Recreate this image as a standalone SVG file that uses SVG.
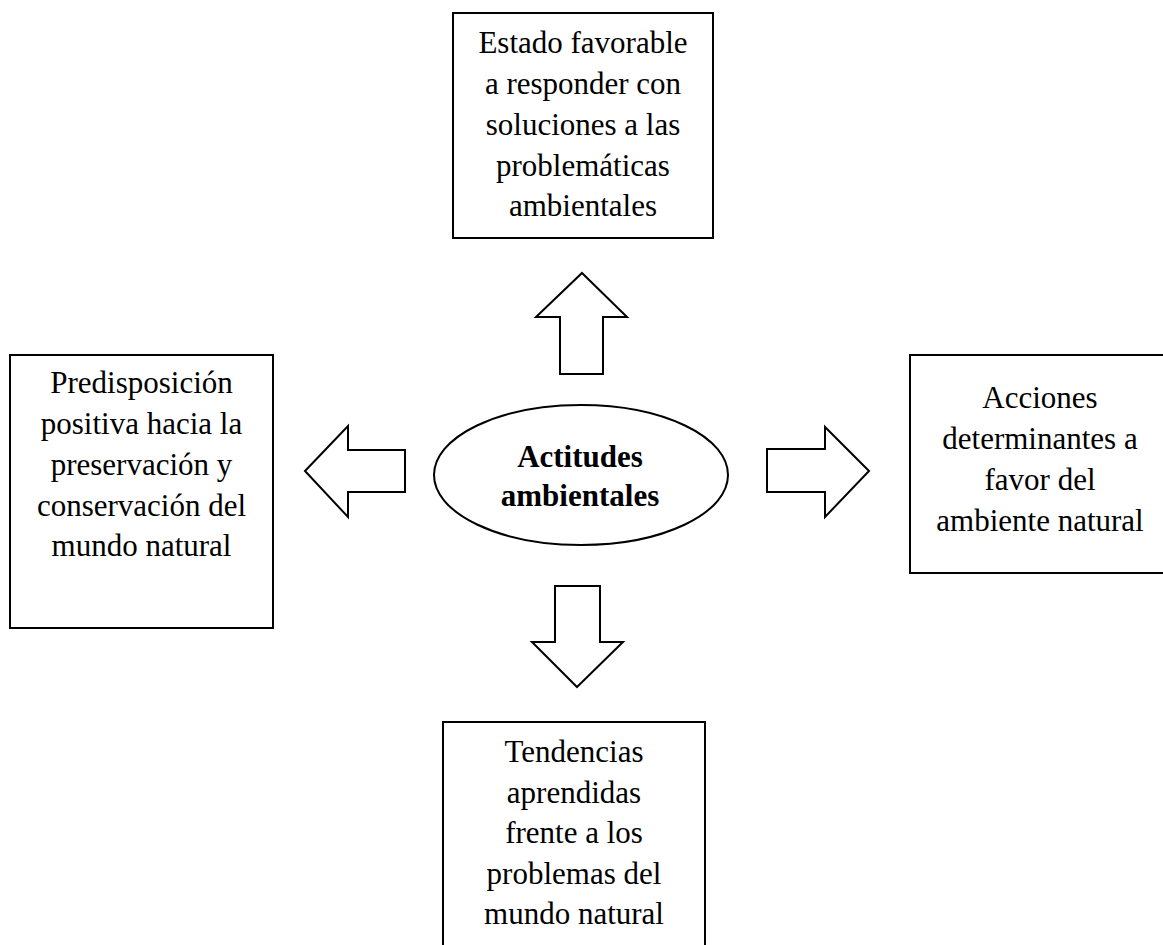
<svg xmlns="http://www.w3.org/2000/svg" width="1163" height="945" viewBox="0 0 1163 945">
  <style>
    .box { fill: #ffffff; stroke: #000000; stroke-width: 2; }
    .arrow { fill: #ffffff; stroke: #000000; stroke-width: 2; stroke-linejoin: miter; }
    .label { font-family: "Liberation Serif", "Times New Roman", serif; font-size: 31px; fill: #000000; text-anchor: middle; }
    .title { font-weight: bold; }
  </style>
  <rect x="0" y="0" width="1163" height="945" fill="#ffffff"/>

  <!-- centre concept -->
  <g id="node-center">
    <ellipse class="box" cx="581" cy="475" rx="147" ry="70"/>
    <text class="label title" x="580" y="467">Actitudes</text>
    <text class="label title" x="580" y="506">ambientales</text>
  </g>

  <!-- top box -->
  <g id="node-top">
    <rect class="box" x="453" y="13" width="260" height="225"/>
    <text class="label" x="583" y="53">Estado favorable</text>
    <text class="label" x="583" y="94">a responder con</text>
    <text class="label" x="583" y="135">soluciones a las</text>
    <text class="label" x="583" y="176">problemáticas</text>
    <text class="label" x="583" y="216">ambientales</text>
  </g>

  <!-- left box -->
  <g id="node-left">
    <rect class="box" x="10" y="355" width="263" height="273"/>
    <text class="label" x="141.5" y="393">Predisposición</text>
    <text class="label" x="141.5" y="434">positiva hacia la</text>
    <text class="label" x="141.5" y="475">preservación y</text>
    <text class="label" x="141.5" y="516">conservación del</text>
    <text class="label" x="141.5" y="556">mundo natural</text>
  </g>

  <!-- right box (runs past the right edge) -->
  <g id="node-right">
    <rect class="box" x="910" y="355" width="260" height="218"/>
    <text class="label" x="1040" y="408">Acciones</text>
    <text class="label" x="1040" y="449">determinantes a</text>
    <text class="label" x="1040" y="490">favor del</text>
    <text class="label" x="1040" y="531">ambiente natural</text>
  </g>

  <!-- bottom box (runs past the bottom edge) -->
  <g id="node-bottom">
    <rect class="box" x="443" y="722" width="262" height="240"/>
    <text class="label" x="574" y="762">Tendencias</text>
    <text class="label" x="574" y="803">aprendidas</text>
    <text class="label" x="574" y="843">frente a los</text>
    <text class="label" x="574" y="884">problemas del</text>
    <text class="label" x="574" y="924">mundo natural</text>
  </g>

  <!-- block arrows -->
  <g id="connectors">
    <polygon class="arrow" points="582,273 627,317 603,317 603,374 560,374 560,317 536,317"/>
    <polygon class="arrow" points="305,471 348,426 348,450 405,450 405,492 348,492 348,517"/>
    <polygon class="arrow" points="869,471 825,427 825,449 767,449 767,492 825,492 825,517"/>
    <polygon class="arrow" points="577,687 623,642 600,642 600,586 555,586 555,642 532,642"/>
  </g>
</svg>
